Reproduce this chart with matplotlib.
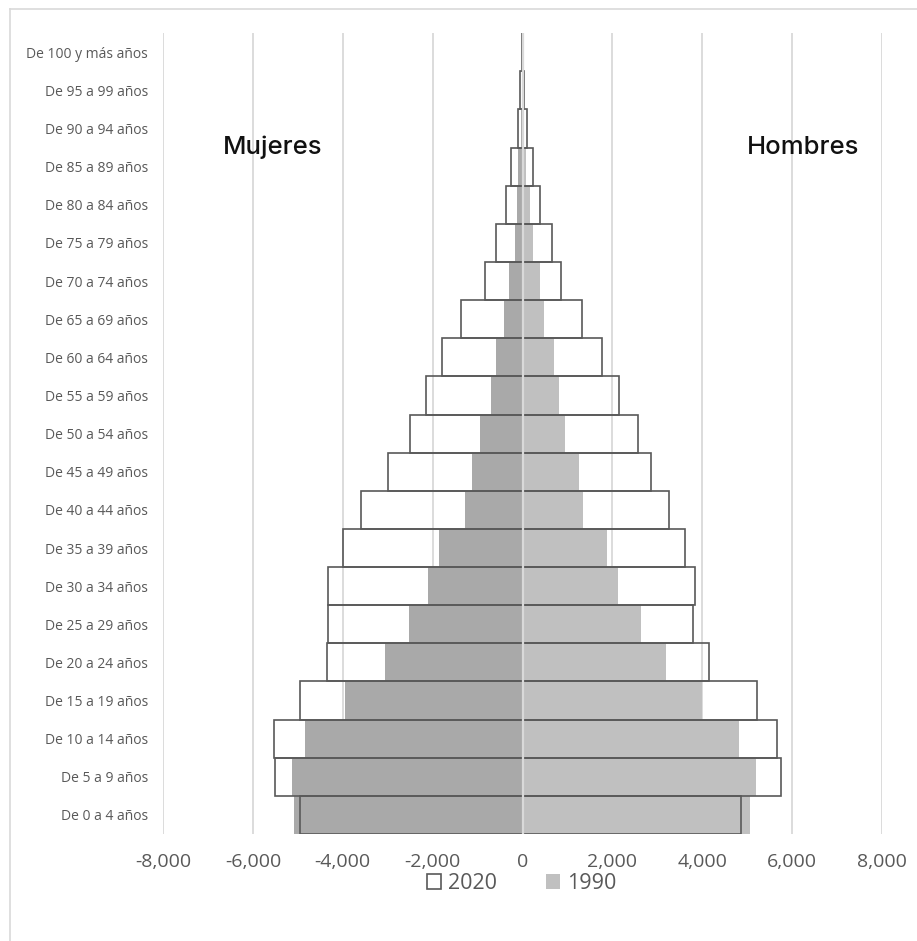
import matplotlib
matplotlib.use('Agg')
import matplotlib.pyplot as plt
from matplotlib.lines import Line2D
from matplotlib.patches import Patch

ages = ['De 0 a 4 años', 'De 5 a 9 años', 'De 10 a 14 años', 'De 15 a 19 años',
        'De 20 a 24 años', 'De 25 a 29 años', 'De 30 a 34 años', 'De 35 a 39 años',
        'De 40 a 44 años', 'De 45 a 49 años', 'De 50 a 54 años', 'De 55 a 59 años',
        'De 60 a 64 años', 'De 65 a 69 años', 'De 70 a 74 años', 'De 75 a 79 años',
        'De 80 a 84 años', 'De 85 a 89 años', 'De 90 a 94 años', 'De 95 a 99 años',
        'De 100 y más años']

women_2020 = [-4960, -5515, -5540, -4960, -4345, -4330, -4320, -4000, -3600, -2985,
              -2505, -2140, -1790, -1365, -845, -600, -370, -260, -105, -65, -15]
women_1990 = [-5080, -5130, -4850, -3940, -3060, -2520, -2100, -1850, -1285, -1120,
              -940, -700, -590, -420, -300, -170, -130, -90, -40, -15, -5]
men_2020 = [4860, 5750, 5670, 5220, 4140, 3790, 3835, 3610, 3255, 2860,
            2560, 2155, 1775, 1330, 855, 655, 390, 230, 100, 40, 15]
men_1990 = [5065, 5190, 4810, 3985, 3200, 2640, 2125, 1875, 1345, 1255,
            950, 815, 690, 470, 390, 230, 160, 75, 40, 10, 3]

xticks = [-8000, -6000, -4000, -2000, 0, 2000, 4000, 6000, 8000]

text_color = '#595959'
edge_color = '#595959'
grid_color = '#d9d9d9'
women_gray = '#a9a9a9'
men_gray = '#c0c0c0'

fig = plt.figure(figsize=(9.17, 9.41), dpi=100)
ax = fig.add_axes([0.1778, 0.1137, 0.784, 0.851])

y = list(range(len(ages)))

# 1990 solid bars underneath
ax.barh(y, women_1990, height=1.0, color=women_gray, zorder=2)
ax.barh(y, men_1990, height=1.0, color=men_gray, zorder=2)
# 2020 outlined bars on top, no fill
ax.barh(y, women_2020, height=1.0, facecolor='none', edgecolor=edge_color, linewidth=1.2, zorder=3)
ax.barh(y, men_2020, height=1.0, facecolor='none', edgecolor=edge_color, linewidth=1.2, zorder=3)

ax.axvline(0, color=grid_color, linewidth=1.6, zorder=4)

ax.set_xlim(-8000, 8000)
ax.set_ylim(-0.5, len(ages) - 0.5)
ax.set_xticks(xticks)
ax.set_xticklabels([f'{v:,}' for v in xticks], fontsize=14, color=text_color,
                   family='Open Sans')
ax.set_yticks(y)
ax.set_yticklabels(ages, fontsize=10, color=text_color, family='Open Sans')
ax.tick_params(axis='both', length=0)
ax.tick_params(axis='y', pad=11)
ax.tick_params(axis='x', pad=14)
ax.grid(axis='x', color=grid_color, linewidth=1.3, zorder=0)
ax.set_axisbelow(True)
for s in ax.spines.values():
    s.set_visible(False)

ax.text(-5570, 17.5, 'Mujeres', fontsize=18.5, fontweight='medium', family='Inter',
        color='#111111', ha='center', va='center')
ax.text(6235, 17.5, 'Hombres', fontsize=18.5, fontweight='medium', family='Inter',
        color='#111111', ha='center', va='center')

handles = [Patch(facecolor='white', edgecolor=edge_color, linewidth=1.2),
           Patch(facecolor=men_gray, edgecolor='none')]
leg = fig.legend(handles, ['2020', '1990'], loc='center', bbox_to_anchor=(0.569, 0.061),
                 ncol=2, frameon=False, handlelength=0.65, handleheight=0.65,
                 handletextpad=0.3, columnspacing=2.3,
                 prop={'family': 'Open Sans', 'size': 15.5})
for t in leg.get_texts():
    t.set_color(text_color)

# chart border (left and top)
fig.add_artist(Line2D([10 / 917, 10 / 917], [0, 1 - 9 / 941], color=grid_color, linewidth=1.2))
fig.add_artist(Line2D([10 / 917, 1], [1 - 9 / 941, 1 - 9 / 941], color=grid_color, linewidth=1.2))

fig.savefig('out.png', dpi=100, facecolor='white')
